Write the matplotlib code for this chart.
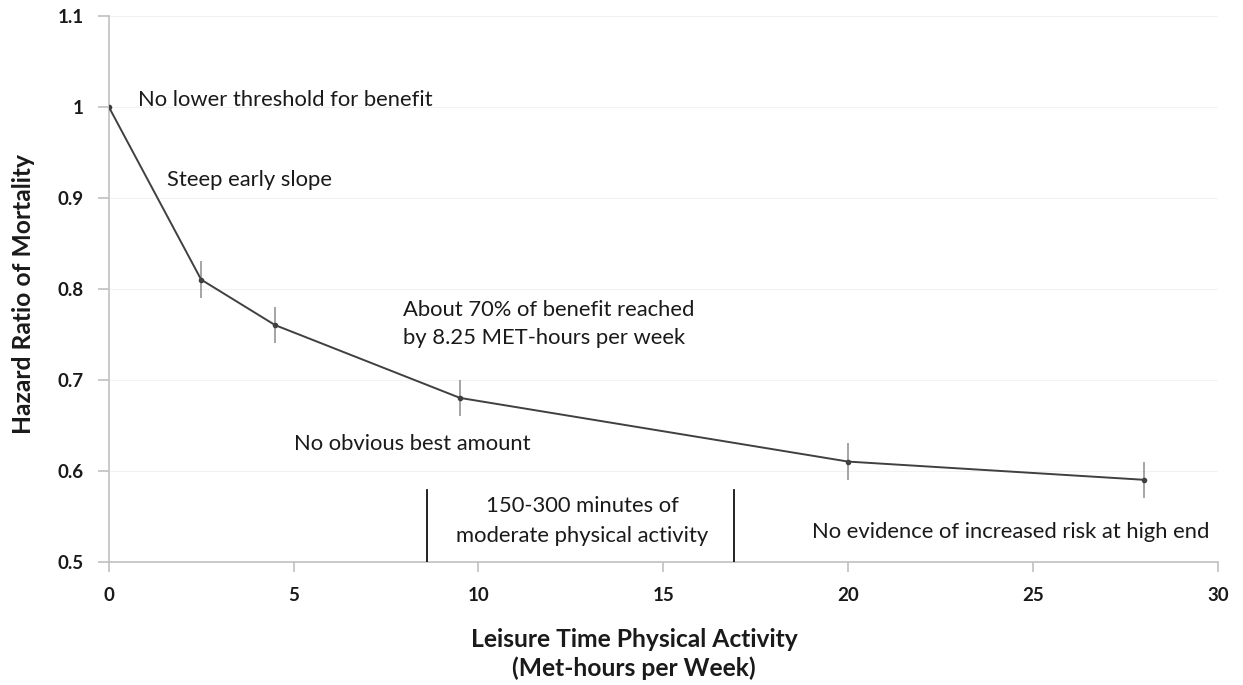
import matplotlib
matplotlib.use("Agg")
import matplotlib.pyplot as plt

# data
met_hours = [0, 2.5, 4.5, 9.5, 20, 28]
hazard_ratio = [1.0, 0.81, 0.76, 0.68, 0.61, 0.59]
hr_err = [0.0, 0.02, 0.02, 0.02, 0.02, 0.02]
guideline_x = [8.62, 16.9]
guideline_top = 0.579

x_ticks = [0, 5, 10, 15, 20, 25, 30]
y_ticks = [0.5, 0.6, 0.7, 0.8, 0.9, 1.0, 1.1]
y_tick_labels = ["0.5", "0.6", "0.7", "0.8", "0.9", "1", "1.1"]

# annotation lines: (x, baseline y, text, horizontal alignment)
notes = [
    (0.78, 1.001, "No lower threshold for benefit", "left"),
    (1.57, 0.913, "Steep early slope", "left"),
    (7.97, 0.770, "About 70% of benefit reached", "left"),
    (7.97, 0.739, "by 8.25 MET-hours per week", "left"),
    (5.0, 0.623, "No obvious best amount", "left"),
    (12.8, 0.555, "150-300 minutes of", "center"),
    (12.8, 0.522, "moderate physical activity", "center"),
    (19.02, 0.526, "No evidence of increased risk at high end", "left"),
]
x_label_lines = ["Leisure Time Physical Activity", "(Met-hours per Week)"]
y_label = "Hazard Ratio of Mortality"

plt.rcParams["font.family"] = ["Lato", "DejaVu Sans"]
TXT = "#1a1a1a"
W, H = 1243, 685

fig = plt.figure(figsize=(W / 100, H / 100), dpi=100)
ax = fig.add_axes([108.7 / W, 1 - 561.7 / H, (1218 - 108.7) / W, (561.7 - 15.7) / H])
renderer = fig.canvas.get_renderer()


def fit_size(s, target_px, **kw):
    """font size that makes s about target_px wide"""
    t = fig.text(0, 0, s, fontsize=10, **kw)
    w = t.get_window_extent(renderer=renderer).width
    t.remove()
    return 10 * target_px / w


note_fs = fit_size("No evidence of increased risk at high end", 398)
label_fs = fit_size(x_label_lines[0], 328, fontweight="bold")

ax.errorbar(met_hours, hazard_ratio, yerr=hr_err, color="#404040", lw=1.4,
            marker="o", markersize=3, ecolor="#8c8c8c", elinewidth=1.1,
            capsize=0, zorder=3)

for gx in guideline_x:
    ax.plot([gx, gx], [0.5, guideline_top], color="#111111", lw=1.3, zorder=3)

ax.set_xlim(0, 30)
ax.set_ylim(0.5, 1.1)
ax.set_xticks(x_ticks)
ax.set_yticks(y_ticks)
ax.set_yticklabels(y_tick_labels)
ax.yaxis.grid(True, color="#f2f2f2", lw=0.8)
ax.set_axisbelow(True)

for s in ["top", "right"]:
    ax.spines[s].set_visible(False)
for s in ["left", "bottom"]:
    ax.spines[s].set_color("#c0c0c0")
    ax.spines[s].set_linewidth(1.2)

ax.tick_params(axis="y", direction="out", length=8, color="#c0c0c0", width=1.2,
               labelsize=13.5, labelcolor=TXT, pad=10)
ax.tick_params(axis="x", direction="out", length=7, color="#c0c0c0", width=1.2,
               labelsize=13.5, labelcolor=TXT, pad=11)
for lab in ax.get_xticklabels() + ax.get_yticklabels():
    lab.set_fontweight("bold")

# x label: two centred lines, baselines at 647 and 676 px
for line, base_px in zip(x_label_lines, [647, 676]):
    fig.text(634 / W, 1 - base_px / H, line, fontsize=label_fs, fontweight="bold",
             color=TXT, ha="center", va="baseline")

ax.set_ylabel(y_label, fontsize=label_fs, fontweight="bold", color=TXT)
ax.yaxis.set_label_coords(-0.066, 0.49)

for x, y, s, ha in notes:
    ax.text(x, y, s, fontsize=note_fs, color=TXT, ha=ha, va="baseline")

fig.savefig("out.png", dpi=100)
